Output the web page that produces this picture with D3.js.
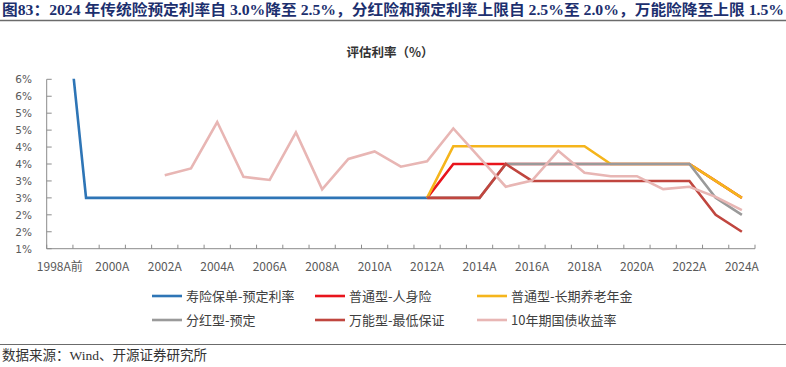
<!DOCTYPE html>
<html><head><meta charset="utf-8">
<script src="https://cdn.jsdelivr.net/npm/d3@7/dist/d3.min.js"></script>
<style>
html,body{margin:0;padding:0;background:#fff;}
svg{display:block;}
</style></head>
<body>
<svg id="c" width="786" height="367"></svg>
<script>
const categories = ["1998A前","1999A","2000A","2001A","2002A","2003A","2004A","2005A","2006A","2007A","2008A","2009A","2010A","2011A","2012A","2013A","2014A","2015A","2016A","2017A","2018A","2019A","2020A","2021A","2022A","2023A","2024A"];
const N = null;
const lifePolicy    = [10,2.5,2.5,2.5,2.5,2.5,2.5,2.5,2.5,2.5,2.5,2.5,2.5,2.5,2.5,N,N,N,N,N,N,N,N,N,N,N,N];
const ordinary      = [N,N,N,N,N,N,N,N,N,N,N,N,N,N,2.5,3.5,3.5,3.5,3.5,3.5,3.5,3.5,3.5,3.5,3.5,3.0,2.5];
const annuity       = [N,N,N,N,N,N,N,N,N,N,N,N,N,N,2.5,4.025,4.025,4.025,4.025,4.025,4.025,3.5,3.5,3.5,3.5,3.0,2.5];
const participating = [N,N,N,N,N,N,N,N,N,N,N,N,N,N,2.5,2.5,2.5,3.5,3.5,3.5,3.5,3.5,3.5,3.5,3.5,2.5,2.0];
const universal     = [N,N,N,N,N,N,N,N,N,N,N,N,N,N,2.5,2.5,2.5,3.5,3.0,3.0,3.0,3.0,3.0,3.0,3.0,2.0,1.5];
const bond10y       = [N,N,N,N,3.17,3.37,4.74,3.12,3.03,4.43,2.75,3.65,3.87,3.42,3.58,4.55,3.69,2.83,3.01,3.89,3.24,3.14,3.14,2.76,2.83,2.53,2.14];
const yTicks = [1,1.5,2,2.5,3,3.5,4,4.5,5,5.5,6];
const xLabels = ["1998A前","2000A","2002A","2004A","2006A","2008A","2010A","2012A","2014A","2016A","2018A","2020A","2022A","2024A"];

const series = [
  {name:"寿险保单-预定利率", values: lifePolicy, color:"#2E75B6"},
  {name:"普通型-人身险", values: ordinary, color:"#E8141C"},
  {name:"普通型-长期养老年金", values: annuity, color:"#F5B51C"},
  {name:"分红型-预定", values: participating, color:"#9A9A9A"},
  {name:"万能型-最低保证", values: universal, color:"#C0463F"},
  {name:"10年期国债收益率", values: bond10y, color:"#E8B6B4"}
];

const svg = d3.select("#c");
const pLeft = 46.7, pRight = 755, pTop = 79.3, pBottom = 248.7;
const x = d3.scaleBand().domain(categories).range([pLeft, pRight]).paddingInner(0).paddingOuter(0);
const y = d3.scaleLinear().domain([1, 6]).range([pBottom, pTop]);
const cx = c => x(c) + x.bandwidth()/2;

// Title
svg.append("text").attr("x", 2).attr("y", 15)
  .attr("textLength", 782).attr("lengthAdjust", "spacingAndGlyphs")
  .style("font-family", "'Liberation Serif','Noto Sans CJK SC',serif")
  .style("font-weight", "bold").style("font-size", "14.5px").style("fill", "#1C2F6E")
  .text("图83：2024 年传统险预定利率自 3.0%降至 2.5%，分红险和预定利率上限自 2.5%至 2.0%，万能险降至上限 1.5%");
svg.append("line").attr("x1", 0).attr("x2", 786).attr("y1", 20.5).attr("y2", 20.5)
  .attr("stroke", "#6b6b6b").attr("stroke-width", 1.5);

// chart title
svg.append("text").attr("x", 390).attr("y", 57).attr("text-anchor", "middle")
  .style("font-family", "'Noto Sans CJK SC',sans-serif").style("font-weight", "bold")
  .style("font-size", "12.5px").style("fill", "#333").text("评估利率（%）");

// y axis
const axisColor = "#8c8c8c";
svg.append("line").attr("x1", pLeft).attr("x2", pLeft).attr("y1", pTop).attr("y2", pBottom)
  .attr("stroke", axisColor).attr("stroke-width", 1);
yTicks.forEach(t => {
  svg.append("line").attr("x1", pLeft).attr("x2", pLeft + 5).attr("y1", y(t)).attr("y2", y(t))
    .attr("stroke", axisColor).attr("stroke-width", 1);
  svg.append("text").attr("x", 32).attr("y", y(t) + 4).attr("text-anchor", "end")
    .style("font-family", "'DejaVu Sans',sans-serif").style("font-size", "10.5px").style("fill", "#595959")
    .text(Math.round(t) + "%");
});

// x axis
svg.append("line").attr("x1", pLeft).attr("x2", pRight).attr("y1", pBottom).attr("y2", pBottom)
  .attr("stroke", axisColor).attr("stroke-width", 1);
categories.concat([null]).forEach(c => {
  const xx = c === null ? pRight : x(c);
  svg.append("line").attr("x1", xx).attr("x2", xx).attr("y1", pBottom).attr("y2", pBottom - 4)
    .attr("stroke", axisColor).attr("stroke-width", 1);
});
xLabels.forEach(l => {
  svg.append("text").attr("x", cx(l)).attr("y", 271).attr("text-anchor", "middle")
    .style("font-family", "'Noto Sans CJK SC',sans-serif").style("font-size", "12px").style("fill", "#595959")
    .text(l);
});

// clip
svg.append("clipPath").attr("id", "plot").append("rect")
  .attr("x", pLeft).attr("y", pTop - 0.5).attr("width", pRight - pLeft).attr("height", pBottom - pTop + 1);

const line = d3.line().defined(d => d.v !== null).x(d => cx(d.c)).y(d => y(d.v));
const g = svg.append("g").attr("clip-path", "url(#plot)");
series.forEach(s => {
  const pts = categories.map((c, i) => ({c, v: s.values[i]}));
  g.append("path").attr("d", line(pts)).attr("fill", "none")
    .attr("stroke", s.color).attr("stroke-width", 2.6).attr("stroke-linejoin", "miter");
});

// legend
const legCols = [152, 315, 477], legRows = [296, 320];
series.forEach((s, i) => {
  const lx = legCols[i % 3], ly = legRows[Math.floor(i / 3)];
  svg.append("line").attr("x1", lx).attr("x2", lx + 30).attr("y1", ly).attr("y2", ly)
    .attr("stroke", s.color).attr("stroke-width", 2.6);
  svg.append("text").attr("x", lx + 34).attr("y", ly + 4.5)
    .style("font-family", "'Noto Sans CJK SC',sans-serif").style("font-size", "13px").style("fill", "#404040")
    .text(s.name);
});

// source
svg.append("line").attr("x1", 0).attr("x2", 786).attr("y1", 344.5).attr("y2", 344.5)
  .attr("stroke", "#6b6b6b").attr("stroke-width", 1.2);
svg.append("text").attr("x", 2).attr("y", 360)
  .style("font-family", "'Liberation Serif','Noto Sans CJK SC',serif")
  .style("font-size", "13.5px").style("fill", "#333").text("数据来源：Wind、开源证券研究所");
</script>
</body></html>
